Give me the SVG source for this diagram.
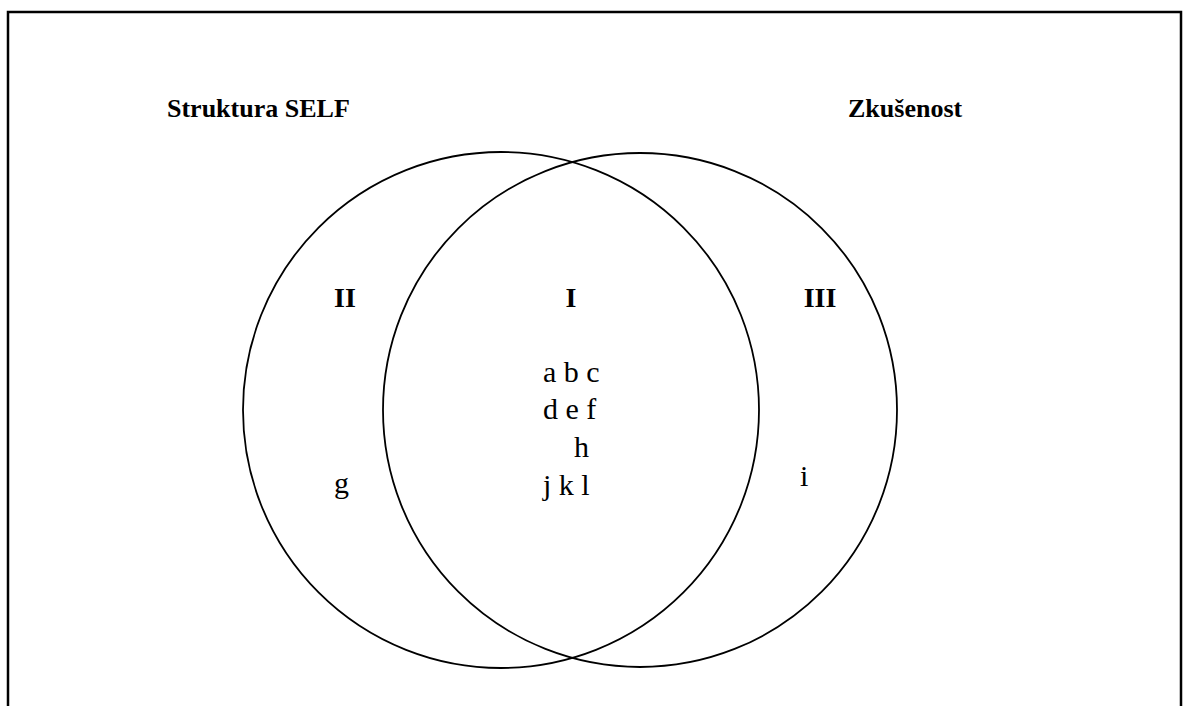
<svg xmlns="http://www.w3.org/2000/svg" width="1183" height="706" viewBox="0 0 1183 706">
<style>
.c{fill:none;stroke:#000;stroke-width:1.8}
.h{font-family:"Liberation Serif",serif;font-weight:bold;font-size:26px;fill:#000}
.r{font-family:"Liberation Serif",serif;font-weight:bold;font-size:28px;fill:#000;text-anchor:middle}
.t{font-family:"Liberation Serif",serif;font-size:30px;fill:#000}
</style>
<rect x="0" y="0" width="1183" height="706" fill="#fff"/>
<rect x="8" y="12" width="1173" height="710" fill="none" stroke="#000" stroke-width="2.5"/>
<g id="self">
<circle class="c" cx="501" cy="410" r="258"/>
<text class="h" x="167" y="117">Struktura SELF</text>
</g>
<g id="zkusenost">
<circle class="c" cx="640" cy="410" r="257"/>
<text class="h" x="848" y="117">Zkušenost</text>
</g>
<g id="region-II"><text class="r" x="345" y="307">II</text><text class="t" x="334" y="493">g</text></g>
<g id="region-I"><text class="r" x="571" y="307">I</text>
<text class="t" x="543" y="382">a b c</text>
<text class="t" x="543" y="419">d e f</text>
<text class="t" x="574" y="457">h</text>
<text class="t" x="543" y="495">j k l</text>
</g>
<g id="region-III"><text class="r" x="820" y="307">III</text><text class="t" x="800" y="486">i</text></g>
</svg>
